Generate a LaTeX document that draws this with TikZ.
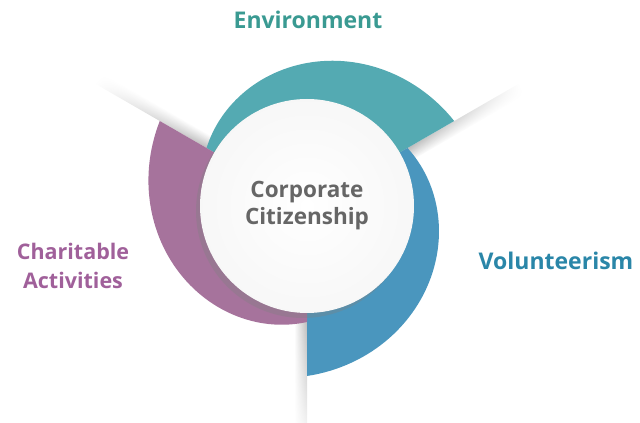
\documentclass[tikz,border=0pt]{standalone}
\usepackage{fontspec}
\setmainfont{Open Sans}
\usetikzlibrary{positioning, shadows, fadings}

\definecolor{envfill}{HTML}{54AAB2}
\definecolor{volfill}{HTML}{4A96BE}
\definecolor{charfill}{HTML}{A6739C}
\definecolor{envtext}{HTML}{3A9A92}
\definecolor{voltext}{HTML}{2A86A8}
\definecolor{chartext}{HTML}{A0609A}
\definecolor{hubtext}{HTML}{666666}

\begin{document}
\begin{tikzpicture}[
        x=1pt, y=1pt,
        ringlabel/.style={font=\bfseries\fontsize{23}{29}\selectfont, align=center},
        hub/.style={circle, minimum size=214pt, inner sep=0pt, inner color=white, outer color=black!3,
          drop shadow={shadow xshift=-4pt, shadow yshift=-5pt, opacity=.35},
          font=\bfseries\fontsize{22.5}{27}\selectfont, text=hubtext, align=center},
        ray/.style={top color=black!28, bottom color=white, path fading=east, draw=none}
      ]
      \useasboundingbox (0,0) rectangle (640,423);
      \coordinate (centre) at (307,217);
      % shadows along the joins
      \foreach \a in {150, 30, -90}
        \shade[ray, transform canvas={shift={(307,217)}, rotate=\a}] (108,0) rectangle (245,-13);
      % the three spiral bands
      \foreach \start/\col in {150/envfill, 30/volfill, -90/charfill}
        \fill[\col, shift={(centre)}] (0,0) -- plot[domain=0:120, samples=61] ({\start-\x}:{116+54*\x/120}) -- cycle;
      \node[hub] (core) at (centre) {Corporate\\Citizenship};
      \node[ringlabel, text=envtext, anchor=base] (env) at (308,394) {Environment};
      \node[ringlabel, text=voltext, anchor=base] (vol) at (556,153) {Volunteerism};
      \node[ringlabel, text=chartext, font=\bfseries\fontsize{21.5}{29}\selectfont, anchor=base] (char) at (73,134) {Charitable\\Activities};
\end{tikzpicture}
\end{document}
